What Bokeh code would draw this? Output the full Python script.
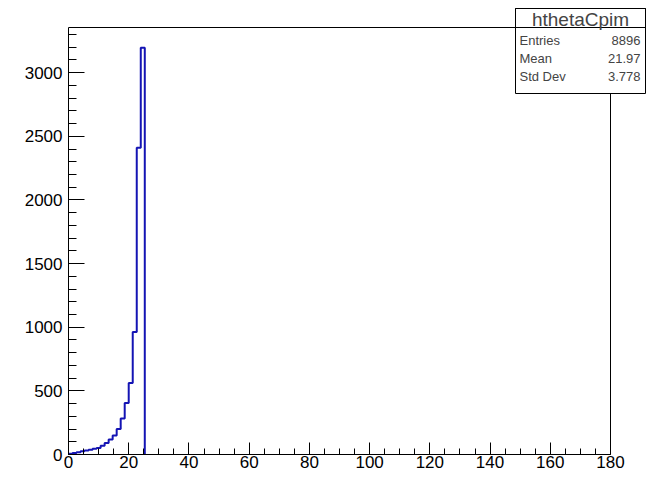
from bokeh.plotting import figure
from bokeh.models import Range1d, BoxAnnotation, Label, SingleIntervalTicker
from bokeh.embed import file_html
from bokeh.resources import INLINE

# ---- data ----
hist_name = "hthetaCpim"
nbins = 135
xmin, xmax = 0.0, 180.0
counts_nonzero = [5, 12, 18, 25, 32, 38, 45, 52, 68, 90, 118, 150, 200,
                  283, 405, 562, 962, 2410, 3195]
stat_names = ["Entries", "Mean", "Std Dev"]
stat_values = ["8896", "21.97", "3.778"]
x_ticks_major = 20
y_ticks_major = 500

counts = counts_nonzero + [0] * (nbins - len(counts_nonzero))
bw = (xmax - xmin) / nbins
edges = [xmin + i * bw for i in range(nbins + 1)]

last = max(i for i, c in enumerate(counts) if c > 0)
xs, ys = [edges[0]], [0]
for i in range(last + 1):
    xs += [edges[i], edges[i + 1]]
    ys += [counts[i], counts[i]]
xs.append(edges[last + 1]); ys.append(0)

ymax = 1.05 * max(counts)

# ---- layout (pixels) ----
W, H = 646, 474
B_BOTTOM = 20          # space for x tick labels
LEFT = 68              # frame left (canvas px)
AX_RIGHT = 610         # where x = xmax sits
AX_TOP = 27            # where y = ymax sits
frame_bottom = H - B_BOTTOM
frame_w = W - LEFT
frame_h = frame_bottom

xscale = (AX_RIGHT - LEFT) / (xmax - xmin)
x_end = xmin + frame_w / xscale
yscale = (frame_bottom - AX_TOP) / ymax
y_end = frame_h / yscale

p = figure(width=W, height=H, output_backend="svg", toolbar_location=None,
           x_range=Range1d(xmin, x_end), y_range=Range1d(0, y_end),
           min_border_left=LEFT, min_border_right=0, min_border_top=0,
           min_border_bottom=B_BOTTOM)
p.background_fill_color = "white"
p.border_fill_color = "white"
p.outline_line_color = None
p.grid.visible = False

# frame box of the histogram pad
p.quad(left=[xmin], right=[xmax], bottom=[0], top=[ymax],
       fill_color=None, line_color="black", line_width=1)

p.line(xs, ys, line_color="#1414b4", line_width=2)

FONT = "Liberation Sans"
for ax in (p.xaxis[0], p.yaxis[0]):
    ax.axis_line_color = "black"
    ax.major_tick_line_color = "black"
    ax.minor_tick_line_color = "black"
    ax.major_tick_out = 0
    ax.minor_tick_out = 0
    ax.major_label_text_font = FONT
    ax.major_label_text_font_size = "17px"
    ax.major_label_text_color = "black"

p.xaxis[0].ticker = SingleIntervalTicker(interval=x_ticks_major, num_minor_ticks=4)
p.xaxis[0].bounds = (xmin, xmax)
p.xaxis[0].major_tick_in = 12
p.xaxis[0].minor_tick_in = 6
p.xaxis[0].major_label_standoff = 1

p.yaxis[0].ticker = SingleIntervalTicker(interval=y_ticks_major, num_minor_ticks=5)
p.yaxis[0].bounds = (0, ymax)
p.yaxis[0].major_tick_in = 16
p.yaxis[0].minor_tick_in = 8
p.yaxis[0].major_label_standoff = 6

# ---- stats box (canvas pixel units) ----
bl, br, bt, bsep, bb = 515, 645, 8, AX_TOP, 93
cu = dict(left_units="canvas", right_units="canvas",
          top_units="canvas", bottom_units="canvas")
p.add_layout(BoxAnnotation(left=bl, right=br, top=bt, bottom=bb, **cu,
                           fill_color="white", fill_alpha=1.0,
                           line_color="black", line_alpha=1.0, line_width=1,
                           level="overlay"))
p.add_layout(BoxAnnotation(left=bl, right=br, top=bt, bottom=bsep, **cu,
                           fill_alpha=0.0,
                           line_color="black", line_alpha=1.0, line_width=1,
                           level="overlay"))
p.add_layout(Label(x=(bl + br) / 2, y=(bt + bsep) / 2 + 1, x_units="canvas", y_units="canvas",
                   text=hist_name, text_font=FONT, text_font_size="19px",
                   text_align="center", text_baseline="middle", level="overlay"))
row_y = [40, 58, 76]
for name, val, yy in zip(stat_names, stat_values, row_y):
    p.add_layout(Label(x=bl + 4, y=yy, x_units="canvas", y_units="canvas",
                       text=name, text_font=FONT, text_font_size="13px",
                       text_align="left", text_baseline="middle", level="overlay"))
    p.add_layout(Label(x=br - 5, y=yy, x_units="canvas", y_units="canvas",
                       text=val, text_font=FONT, text_font_size="13px",
                       text_align="right", text_baseline="middle", level="overlay"))

open("out.html", "w").write(file_html(p, INLINE))
